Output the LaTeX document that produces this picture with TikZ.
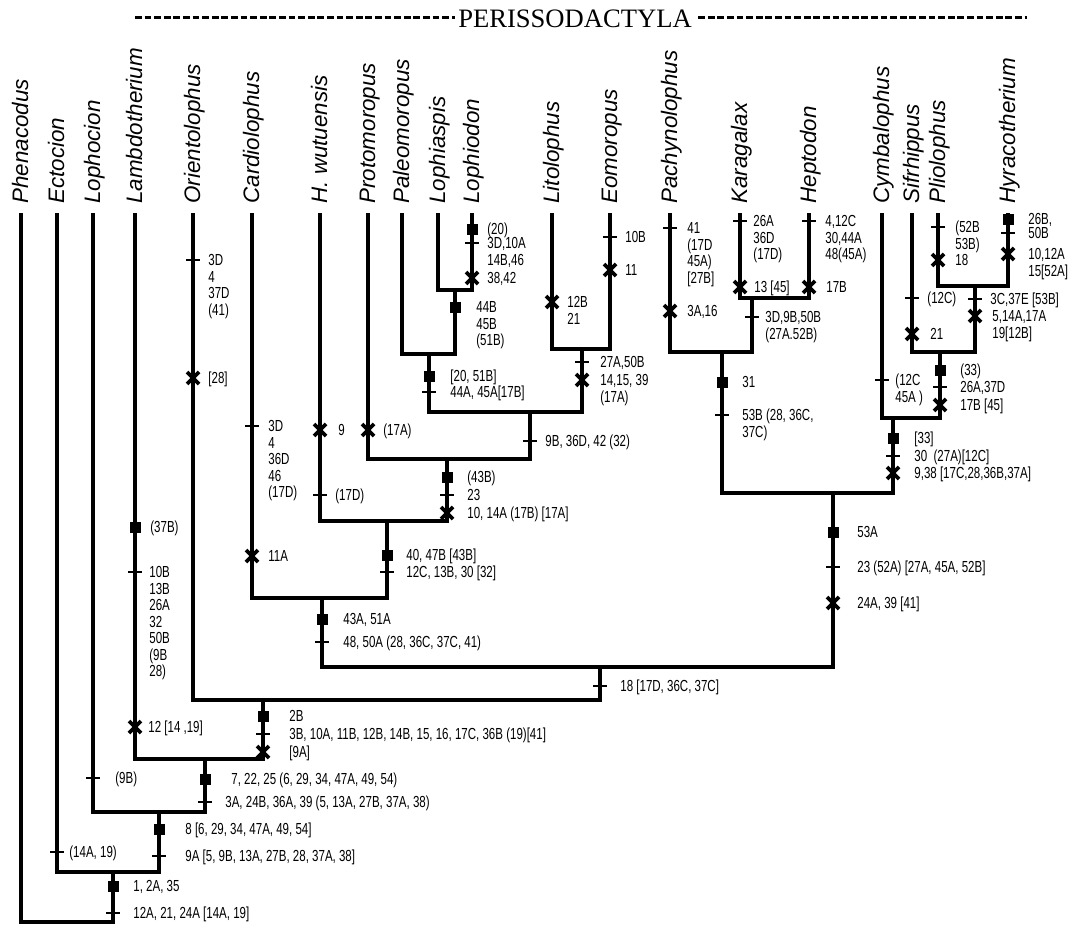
\documentclass[tikz,border=0pt]{standalone}
\usepackage{fontspec}
\setmainfont{Liberation Sans}
\newfontfamily\labfont[FakeStretch=0.72]{Liberation Sans}
\newfontfamily\titfont{Liberation Serif}
\newcommand{\ml}[1]{\begin{tabular}[t]{@{}l@{}}#1\end{tabular}}

\begin{document}
\begin{tikzpicture}[x=0.5pt, y=-0.5pt,
    branch/.style={line width=1.7pt},
    taxon/.style={rotate=90, anchor=base west, inner sep=0pt,
      font=\fontsize{11.2}{13}\selectfont\itshape},
    lab/.style={anchor=base west, inner sep=0pt, yshift=-2.8pt,
      font=\labfont\fontsize{8}{8.25}\selectfont},
    dashline/.style={line width=1.5pt, dash pattern=on 3.4pt off 1.4pt}]
  \tikzset{
    sq/.pic = {\fill (-5.5,-5.5) rectangle (5.5,5.5);},
    tk/.pic = {\draw[line width=1pt] (-7,0) -- (7,0);},
    cr/.pic = {\draw[line width=1.8pt] (-6,-6) -- (6,6) (-6,6) -- (6,-6);}
  }
  \useasboundingbox (0,0) rectangle (1074,925);

  % title
  \node[font=\titfont\fontsize{13.3}{15}\selectfont, anchor=base, inner sep=1.5pt]
    (title) at (575,28) {PERISSODACTYLA};
  \coordinate (dl) at (135,18);
  \coordinate (dr) at (1027,18);
  \draw[dashline] (dl) -- (dl -| title.west);
  \draw[dashline] (title.east |- dr) ++(3,0) -- (dr);

  % taxa
  \foreach \n/\x/\t in {phe/21/Phenacodus, ect/57/Ectocion, lph/93/Lophocion,
      lam/135/Lambdotherium, ori/193/Orientolophus, car/252/Cardiolophus,
      hwu/320/H. wutuensis, pro/368/Protomoropus, pal/402/Paleomoropus,
      lpa/438/Lophiaspis, lpd/472/Lophiodon, lit/552/Litolophus,
      eom/610/Eomoropus, pac/670/Pachynolophus, kar/740/Karagalax,
      hep/809/Heptodon, cym/882/Cymbalophus, sif/912/Sifrhippus,
      pli/938/Pliolophus, hyr/1008/Hyracotherium}{
    \coordinate (\n) at (\x,213);
    \node[taxon] (\n-name) at (\x+7,204) {\t};
  }

  % clades
  \coordinate (n1) at (113,922);
  \coordinate (n2) at (113,872);
  \coordinate (n3) at (159,812);
  \coordinate (n4) at (205,759);
  \coordinate (n5) at (263,700);
  \coordinate (n6) at (600,667);
  \coordinate (n7) at (322,598);
  \coordinate (n8) at (387,521);
  \coordinate (n9) at (447,459);
  \coordinate (n10) at (530,412);
  \coordinate (n11) at (429,354);
  \coordinate (n12) at (455,290);
  \coordinate (n13) at (582,349);
  \coordinate (n14) at (833,493);
  \coordinate (n15) at (722,352);
  \coordinate (n16) at (752,298);
  \coordinate (n17) at (893,418);
  \coordinate (n18) at (940,352);
  \coordinate (n19) at (975,286);

  \draw[branch] (phe) |- (n2 |- n1) -- (n2);
  \draw[branch] (ect) |- (n3 |- n2) -- (n3);
  \draw[branch] (lph) |- (n4 |- n3) -- (n4);
  \draw[branch] (lam) |- (n5 |- n4) -- (n5);
  \draw[branch] (ori) |- (n6 |- n5) -- (n6);
  \draw[branch] (n7) |- (n14 |- n6) -- (n14);
  \draw[branch] (car) |- (n8 |- n7) -- (n8);
  \draw[branch] (hwu) |- (n9 |- n8) -- (n9);
  \draw[branch] (pro) |- (n10 |- n9) -- (n10);
  \draw[branch] (n11) |- (n13 |- n10) -- (n13);
  \draw[branch] (pal) |- (n12 |- n11) -- (n12);
  \draw[branch] (lpa) |- (lpd |- n12) -- (lpd);
  \draw[branch] (lit) |- (eom |- n13) -- (eom);
  \draw[branch] (n15) |- (n17 |- n14) -- (n17);
  \draw[branch] (pac) |- (n16 |- n15) -- (n16);
  \draw[branch] (kar) |- (hep |- n16) -- (hep);
  \draw[branch] (cym) |- (n18 |- n17) -- (n18);
  \draw[branch] (sif) |- (n19 |- n18) -- (n19);
  \draw[branch] (pli) |- (hyr |- n19) -- (hyr);

  % squares
  \foreach \x/\y/\lx/\l in {113/886/133/{1, 2A, 35},
      159/829/185/{8 [6, 29, 34, 47A, 49, 54]},
      205/779/231/{7, 22, 25 (6, 29, 34, 47A, 49, 54)},
      135/527/150/{(37B)}, 263/716/289/{2B}, 322/619/343/{43A, 51A},
      387/555/406/{40, 47B [43B]}, 447/477/467/{(43B)},
      429/376/450/{[20, 51B]}, 455/307/476/{44B\\45B\\(51B)},
      472/229/487/{(20)}, 833/532/857/{53A}, 722/382/742/{31},
      893/438/914/{[33]}, 940/370/960/{(33)}, 1008/219/1028/{26B,}}{
    \pic at (\x,\y) {sq};
    \node[lab] at (\lx,\y) {\ml{\l}};
  }

  % ticks
  \foreach \x/\y/\lx/\l in {113/913/133/{12A, 21, 24A [14A, 19]},
      57/852/69/{(14A, 19)},
      159/856/185/{9A [5, 9B, 13A, 27B, 28, 37A, 38]},
      93/778/115/{(9B)},
      205/802/225/{3A, 24B, 36A, 39 (5, 13A, 27B, 37A, 38)},
      135/572/149/{10B\\13B\\26A\\32\\50B\\(9B\\28)},
      263/734/289/{3B, 10A, 11B, 12B, 14B, 15, 16, 17C, 36B (19)[41]},
      193/260/208/{3D\\4\\37D\\(41)},
      600/686/620/{18 [17D, 36C, 37C]},
      322/642/343/{48, 50A (28, 36C, 37C, 41)},
      252/426/268/{3D\\4\\36D\\46\\(17D)},
      387/572/406/{12C, 13B, 30 [32]},
      320/495/335/{(17D)}, 447/495/467/{23},
      530/441/545/{9B, 36D, 42 (32)},
      429/392/450/{44A, 45A[17B]},
      472/243/487/{3D,10A\\14B,46},
      582/362/600/{27A,50B}, 610/237/625/{10B},
      833/567/857/{23 (52A) [27A, 45A, 52B]},
      722/415/742/{53B (28, 36C,\\37C)},
      670/228/687/{41\\(17D\\45A)\\{}[27B]},
      752/317/765/{3D,9B,50B\\(27A.52B)},
      740/221/753/{26A\\36D\\(17D)},
      809/221/825/{4,12C\\30,44A\\48(45A)},
      893/456/914/{30\ \ (27A)[12C]},
      882/380/895/{(12C\\45A )},
      940/387/960/{26A,37D}, 912/298/927/{(12C)},
      975/299/990/{3C,37E [53B]},
      938/227/955/{(52B\\53B)}, 1008/233/1028/{50B}}{
    \pic at (\x,\y) {tk};
    \node[lab] at (\lx,\y) {\ml{\l}};
  }

  % crosses
  \foreach \x/\y/\lx/\l in {135/727/148/{12 [14 ,19]},
      263/752/289/{[9A]}, 193/378/208/{[28]}, 252/556/268/{11A},
      320/430/338/{9}, 447/513/467/{10, 14A (17B) [17A]},
      368/430/383/{(17A)}, 472/278/487/{38,42},
      582/380/600/{14,15, 39\\(17A)}, 552/302/567/{12B\\21},
      610/270/625/{11}, 833/603/857/{24A, 39 [41]},
      670/311/687/{3A,16}, 740/287/754/{13 [45]}, 809/287/826/{17B},
      893/473/914/{9,38 [17C,28,36B,37A]},
      940/405/960/{17B [45]}, 912/334/930/{21},
      975/316/992/{5,14A,17A\\19[12B]}, 938/260/955/{18},
      1008/254/1028/{10,12A\\15[52A]}}{
    \pic at (\x,\y) {cr};
    \node[lab] at (\lx,\y) {\ml{\l}};
  }
\end{tikzpicture}
\end{document}
